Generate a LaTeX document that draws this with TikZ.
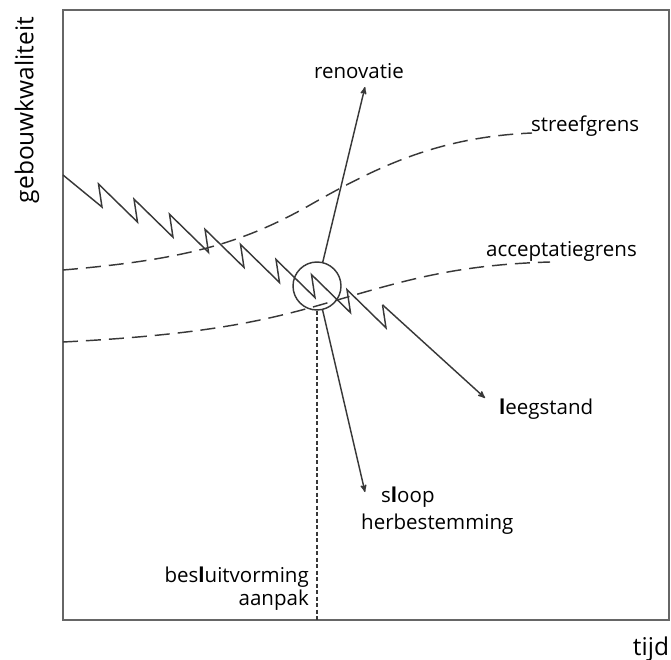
\documentclass[tikz,border=0pt]{standalone}
\usepackage{fontspec}
\setmainfont{Open Sans}
\usetikzlibrary{positioning, arrows}
\tikzstyle{tag}       = [inner sep=1pt, font=\fontsize{20.5}{24}\selectfont, text=black]
\tikzstyle{axistag}   = [inner sep=1pt, font=\fontsize{24.5}{28}\selectfont, text=black]
\tikzstyle{curve}     = [line width=1.45pt, draw=black!78]
\tikzstyle{limit}     = [curve, dash pattern=on 15pt off 8pt]
\tikzstyle{frame}     = [line width=1.7pt, draw=black!60]

\begin{document}
\begin{tikzpicture}[x=1pt, y=-1pt, >=stealth']
            \useasboundingbox (0,0) rectangle (671,660);

            \coordinate (origin)   at (63,620);
            \coordinate (corner)   at (669,10);
            \coordinate (renoTip)  at (365,87);
            \coordinate (sloopTip) at (365,492);
            \coordinate (leegTip)  at (485,398);

            \node[curve, circle, draw, minimum size=48pt, inner sep=0pt] (circ) at (317,286) {};
            \node[tag, anchor=south] (reno)   at (359,80)  {renovatie};
            \node[tag, anchor=west]  (sloop)  at (380,497) {s\textbf{l}oop};
            \node[tag, anchor=west]  (herb)   at (360,524) {herbestemming};
            \node[tag, anchor=west]  (leeg)   at (498,409) {\textbf{l}eegstand};
            \node[tag, anchor=west]  (streef) at (530,126) {streefgrens};
            \node[tag, anchor=west]  (accept) at (485,251) {acceptatiegrens};
            \node[tag, anchor=east]  (besl)   at (310,577) {bes\textbf{l}uitvorming};
            \node[tag, anchor=north east] (aanpak) at (besl.south east) {aanpak};
            \node[axistag, rotate=90] (yas) at (27,110) {gebouwkwaliteit};
            \node[axistag] (xas) at (651,649) {tijd};

            % axes
            \draw[frame] (origin) rectangle (corner);

            % grenzen
            \draw[limit] (63,270) .. controls (180,260) and (240,245) .. (310,205)
                                  .. controls (380,165) and (440,137) .. (532,133);
            \draw[limit] (63,342) .. controls (200,335) and (260,322) .. (320,305)
                                  .. controls (400,282) and (450,265) .. (550,262);

            % zaagtand
            \draw[curve, line join=miter] (63,175)
                \foreach \i in {1,...,9} {
                    -- ({66.5+35.5*\i}, {207+15.1*(\i-1)})
                    -- ({63+35.5*\i},   {184+15.1*(\i-1)}) coordinate (top\i)
                };
            \draw[curve, ->] (top9) -- (leegTip);

            \draw[curve, ->] (circ) -- (renoTip);
            \draw[curve, ->] (circ) -- (sloopTip);
            \draw[curve, dash pattern=on 4pt off 2.5pt] (circ.south) -- (circ.south |- origin);
        \end{tikzpicture}
\end{document}
